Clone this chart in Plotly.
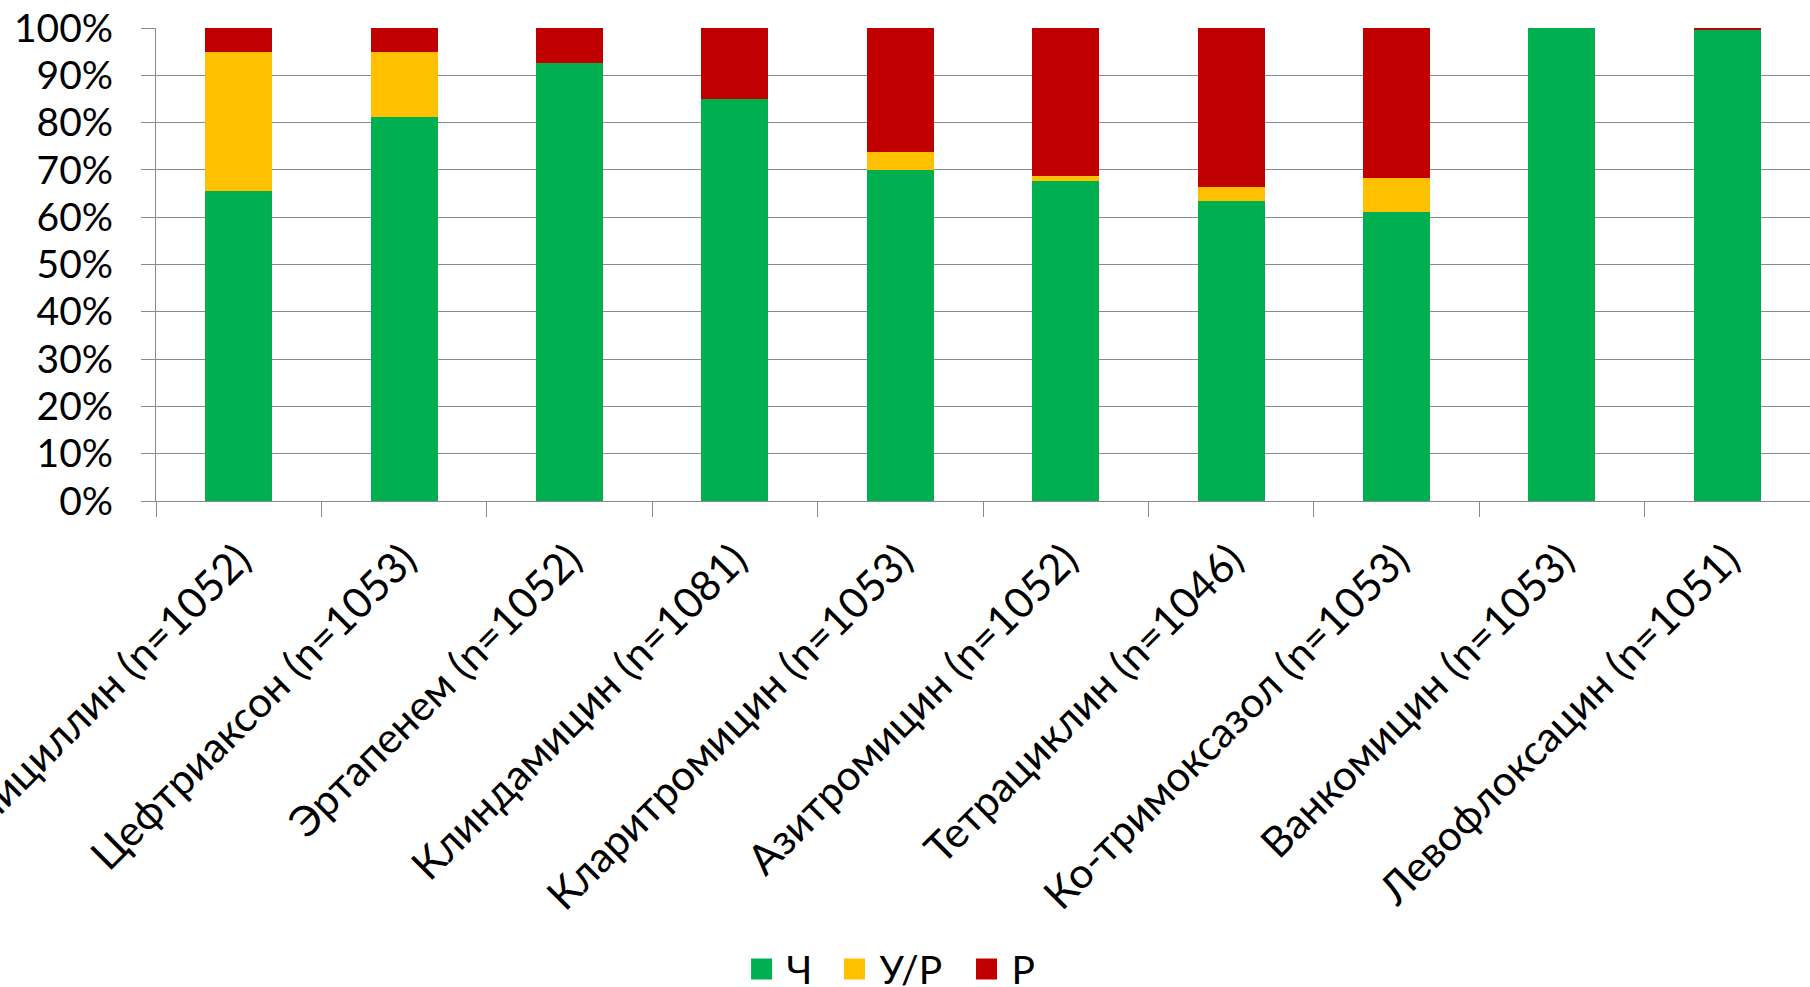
import plotly.graph_objects as go

# Antibiotic susceptibility, share of isolates (%)
antibiotics = [
    "Пенициллин (n=1052)",
    "Цефтриаксон (n=1053)",
    "Эртапенем (n=1052)",
    "Клиндамицин (n=1081)",
    "Кларитромицин (n=1053)",
    "Азитромицин (n=1052)",
    "Тетрациклин (n=1046)",
    "Ко-тримоксазол (n=1053)",
    "Ванкомицин (n=1053)",
    "Левофлоксацин (n=1051)",
]
susceptible = [65.6, 81.1, 92.5, 84.9, 70.0, 67.7, 63.5, 61.1, 100.0, 99.7]
intermediate = [29.4, 13.9, 0.0, 0.0, 3.8, 1.1, 2.9, 7.2, 0.0, 0.0]
resistant = [5.0, 5.0, 7.5, 15.1, 26.2, 31.2, 33.6, 31.7, 0.0, 0.3]

series = [
    ("Ч", susceptible, "#00B050", "legend"),
    ("У/Р", intermediate, "#FFC000", "legend2"),
    ("Р", resistant, "#C00000", "legend3"),
]

FONT = "Lato, Calibri, Carlito, 'Open Sans', sans-serif"
GRID = "#8a8a8a"

fig = go.Figure()
for name, values, color, leg in series:
    fig.add_trace(go.Bar(
        x=antibiotics, y=values, name=name,
        marker=dict(color=color, line=dict(width=0)),
        legendgroup=name, showlegend=False,
    ))
    # square legend swatch for the series
    fig.add_trace(go.Scatter(
        x=[None], y=[None], name=name, mode="markers",
        marker=dict(symbol="square", size=16, color=color,
                    line=dict(color=color, width=5)),
        legendgroup=name, showlegend=True, hoverinfo="skip",
        legend=leg,
    ))

legend_style = dict(
    orientation="h", xanchor="left", y=-0.99, yanchor="middle",
    font=dict(family=FONT, size=39, color="#000000"),
    bgcolor="rgba(0,0,0,0)", itemwidth=40,
)

fig.update_layout(
    width=1810, height=987,
    barmode="stack", bargap=0.595,
    margin=dict(l=156, r=0, t=28, b=486, autoexpand=False),
    paper_bgcolor="white", plot_bgcolor="white",
    font=dict(family=FONT, size=39, color="#000000"),
    showlegend=True,
    legend=dict(x=0.351, **legend_style),
    legend2=dict(x=0.4072, **legend_style),
    legend3=dict(x=0.4870, **legend_style),
)

fig.update_xaxes(
    type="category", tickangle=-45, automargin=False,
    tickson="boundaries", ticks="outside", ticklen=15,
    tickcolor=GRID, tickwidth=1.25,
    showline=True, linecolor=GRID, linewidth=1.25,
    showgrid=False, zeroline=False, ticklabelstandoff=16,
    tickfont=dict(family=FONT, size=42, color="#000000"),
)

fig.update_yaxes(
    range=[0, 100], dtick=10, ticksuffix="%", automargin=False,
    ticks="outside", ticklen=14, tickcolor=GRID, tickwidth=1.25,
    showline=True, linecolor=GRID, linewidth=1.25,
    showgrid=True, gridcolor=GRID, gridwidth=1.25,
    zeroline=False, ticklabelstandoff=20,
    tickfont=dict(family=FONT, size=39, color="#000000"),
)

fig.write_html("out.html")
